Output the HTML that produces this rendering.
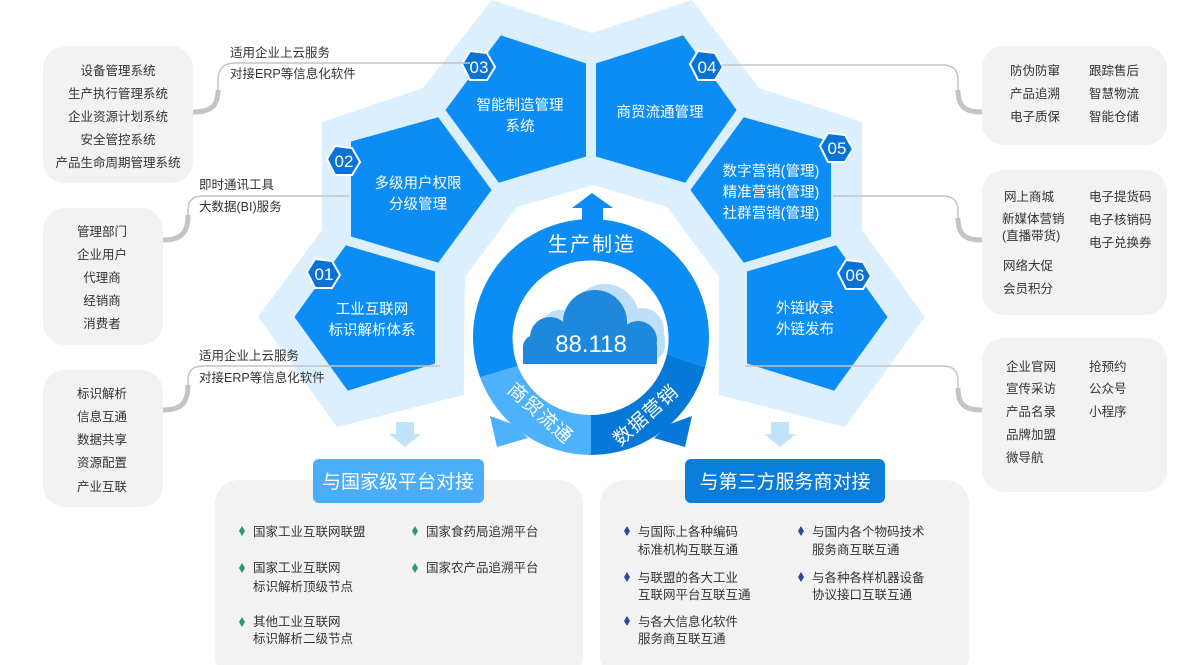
<!DOCTYPE html>
<html><head><meta charset="utf-8">
<style>
html,body{margin:0;padding:0;background:#fff;}
svg{display:block;font-family:"Liberation Sans","Noto Sans CJK SC",sans-serif;}
.g{fill:#333;font-size:12.5px;}
.w{fill:#fff;font-size:14.5px;}
.b{fill:#fff;font-size:17px;}
</style></head><body>
<svg width="1200" height="665" viewBox="0 0 1200 665" xmlns="http://www.w3.org/2000/svg">
<polygon points="492,0 592,33 692,0 759,88 862,122 862,230 925,317 845,427 719,395 463,395 337,427 258,317 322,230 322,122 423,88" fill="#dcefff"/>
<polygon points="463,470 465,277 517,207 593,185 667,207 719,277 719,470" fill="#fff"/>
<g fill="#0b8df5" stroke="#dcefff" stroke-width="4" stroke-linejoin="round">
<polygon points="500,33 588,62 588,158 498,185 443,110"/>
<polygon points="594,62 684,33 739,110 686,185 594,158"/>
<polygon points="349,140 439,115 494,190 439,265 349,238"/>
<polygon points="833,140 743,115 688,190 743,265 833,238"/>
<polygon points="292,317 345,243 437,270 437,365 347,393"/>
<polygon points="890,317 837,243 745,270 745,365 835,393"/>
</g>
<g class="w" text-anchor="middle">
<text x="520" y="110">智能制造管理</text><text x="520" y="131">系统</text>
<text x="660" y="117">商贸流通管理</text>
<text x="418" y="188">多级用户权限</text><text x="418" y="209">分级管理</text>
<text x="771" y="176">数字营销(管理)</text><text x="771" y="197">精准营销(管理)</text><text x="771" y="218">社群营销(管理)</text>
<text x="372" y="314">工业互联网</text><text x="372" y="335">标识解析体系</text>
<text x="805" y="313">外链收录</text><text x="805" y="334">外链发布</text>
</g>
<g fill="#0872d6" stroke="#fff" stroke-width="2">
<polygon points="462,64 470,51 487,53 495,67 487,80 470,80"/>
<polygon points="690,64 698,51 715,53 723,67 715,80 698,80"/>
<polygon points="327,159 335,146 352,148 360,162 352,175 335,175"/>
<polygon points="820,146 828,133 845,135 853,149 845,162 828,162"/>
<polygon points="307,272 315,259 332,261 340,275 332,288 315,288"/>
<polygon points="838,273 846,260 863,262 871,276 863,289 846,289"/>
</g>
<g class="b" text-anchor="middle">
<text x="479" y="73">03</text><text x="707" y="73">04</text><text x="344" y="167">02</text>
<text x="837" y="154">05</text><text x="324" y="280">01</text><text x="855" y="281">06</text>
</g>
<polygon points="592,193 613,208 603,208 603,222 582,222 582,208 572,208" fill="#0b8df5"/>
<path d="M705,367.5 A118,118 0 1 0 480.1,377.4 L517.6,366 A78,78 0 1 1 667,354 Z" fill="#0b8df5"/>
<path d="M591,455 A118,118 0 0 1 480.1,377.4 L517.6,366 A78,78 0 0 0 591,415 Z" fill="#4db1fc"/>
<path d="M705,367.5 A118,118 0 0 1 591,455 L591,415 A78,78 0 0 0 667,354 Z" fill="#0678d8"/>
<polygon points="490,416 512,424 528,438 497,447" fill="#4db1fc"/>
<polygon points="692,416 670,424 654,438 685,447" fill="#0678d8"/>
<text x="592" y="251" fill="#fff" font-size="20" text-anchor="middle" letter-spacing="2">生产制造</text>
<text transform="translate(536,418) rotate(42)" fill="#fff" font-size="19" text-anchor="middle" letter-spacing="1">商贸流通</text>
<text transform="translate(650,420) rotate(-42)" fill="#fff" font-size="19" text-anchor="middle" letter-spacing="1">数据营销</text>
<g fill="#bddff7">
<circle cx="605" cy="318" r="34"/><circle cx="642" cy="330" r="22"/><circle cx="560" cy="330" r="20"/>
<rect x="545" y="325" width="120" height="35" rx="14"/>
</g>
<g fill="#1e88dc">
<circle cx="550" cy="337" r="20"/><circle cx="595" cy="322" r="32"/><circle cx="638" cy="340" r="19"/>
<rect x="523" y="335" width="134" height="29" rx="12"/>
<rect x="523" y="345" width="134" height="19"/>
</g>
<text x="591" y="352" fill="#fff" font-size="24" text-anchor="middle">88.118</text>
<g fill="#bfe3f8">
<polygon points="396,422 414,422 414,434 421,434 405,447 389,434 396,434"/>
<polygon points="771,422 789,422 789,434 796,434 780,447 764,434 771,434"/>
</g>
<g fill="#f2f2f2">
<rect x="43" y="46" width="150" height="137" rx="22"/>
<rect x="43" y="208" width="120" height="137" rx="22"/>
<rect x="43" y="370" width="120" height="137" rx="22"/>
<rect x="982" y="46" width="185" height="99" rx="22"/>
<rect x="982" y="170" width="185" height="145" rx="22"/>
<rect x="982" y="338" width="185" height="154" rx="22"/>
<rect x="215" y="480" width="368" height="200" rx="24"/>
<rect x="600" y="480" width="369" height="200" rx="24"/>
</g>
<g fill="none" stroke="#c4c4c4">
<path d="M218,90 L218,80 Q218,63 235,63 H470" stroke-width="1.5"/>
<path d="M193,112 C212,112 218,105 218,90" stroke-width="5"/>
<path d="M188,215 L188,210 Q188,196 203,196 H349" stroke-width="1.5"/>
<path d="M163,240 C182,240 188,232 188,215" stroke-width="5"/>
<path d="M188,385 L188,380 Q188,366 203,366 H440" stroke-width="1.5"/>
<path d="M163,410 C182,410 188,402 188,385" stroke-width="5"/>
<path d="M722,65 H943 Q958,65 958,80 L958,90" stroke-width="1.5"/>
<path d="M958,90 C958,106 964,112 982,112" stroke-width="5"/>
<path d="M833,196 H943 Q958,196 958,211 L958,218" stroke-width="1.5"/>
<path d="M958,218 C958,234 964,240 982,240" stroke-width="5"/>
<path d="M745,366 H943 Q958,366 958,381 L958,388" stroke-width="1.5"/>
<path d="M958,388 C958,404 964,410 982,410" stroke-width="5"/>
</g>
<g class="g" font-size="12">
<text x="230" y="57">适用企业上云服务</text><text x="230" y="78">对接ERP等信息化软件</text>
<text x="199" y="189">即时通讯工具</text><text x="199" y="211">大数据(BI)服务</text>
<text x="199" y="360">适用企业上云服务</text><text x="199" y="382">对接ERP等信息化软件</text>
</g>
<g class="g" text-anchor="middle">
<text x="118" y="75">设备管理系统</text><text x="118" y="98">生产执行管理系统</text><text x="118" y="121">企业资源计划系统</text><text x="118" y="144">安全管控系统</text><text x="118" y="167">产品生命周期管理系统</text>
<text x="102" y="236">管理部门</text><text x="102" y="259">企业用户</text><text x="102" y="282">代理商</text><text x="102" y="305">经销商</text><text x="102" y="328">消费者</text>
<text x="102" y="398">标识解析</text><text x="102" y="421">信息互通</text><text x="102" y="444">数据共享</text><text x="102" y="467">资源配置</text><text x="102" y="491">产业互联</text>
</g>
<g class="g">
<text x="1010" y="75">防伪防窜</text><text x="1010" y="98">产品追溯</text><text x="1010" y="121">电子质保</text>
<text x="1089" y="75">跟踪售后</text><text x="1089" y="98">智慧物流</text><text x="1089" y="121">智能仓储</text>
<text x="1004" y="201">网上商城</text><text x="1002" y="223">新媒体营销</text><text x="1002" y="240">(直播带货)</text><text x="1003" y="270">网络大促</text><text x="1003" y="293">会员积分</text>
<text x="1089" y="201">电子提货码</text><text x="1089" y="224">电子核销码</text><text x="1089" y="247">电子兑换券</text>
<text x="1006" y="371">企业官网</text><text x="1006" y="393">宣传采访</text><text x="1006" y="416">产品名录</text><text x="1006" y="439">品牌加盟</text><text x="1006" y="462">微导航</text>
<text x="1089" y="371">抢预约</text><text x="1089" y="393">公众号</text><text x="1089" y="416">小程序</text>
</g>
<rect x="313" y="459" width="171" height="44" rx="6" fill="#4aadf9"/>
<rect x="685" y="459" width="200" height="44" rx="6" fill="#0a7ddb"/>
<text x="398" y="488" fill="#fff" font-size="19" text-anchor="middle">与国家级平台对接</text>
<text x="785" y="488" fill="#fff" font-size="19" text-anchor="middle">与第三方服务商对接</text>
<g fill="#2a9d6f">
<polygon points="242,526 245,531 242,536 239,531"/><polygon points="242,563 245,568 242,573 239,568"/><polygon points="242,617 245,622 242,627 239,622"/>
<polygon points="415,526 418,531 415,536 412,531"/><polygon points="415,563 418,568 415,573 412,568"/>
</g>
<g fill="#2b4a9a">
<polygon points="627,526 630,531 627,536 624,531"/><polygon points="627,572 630,577 627,582 624,577"/><polygon points="627,616 630,621 627,626 624,621"/>
<polygon points="801,526 804,531 801,536 798,531"/><polygon points="801,572 804,577 801,582 798,577"/>
</g>
<g class="g" font-size="12">
<text x="253" y="536">国家工业互联网联盟</text>
<text x="253" y="572">国家工业互联网</text><text x="253" y="591">标识解析顶级节点</text>
<text x="253" y="626">其他工业互联网</text><text x="253" y="643">标识解析二级节点</text>
<text x="426" y="536">国家食药局追溯平台</text>
<text x="426" y="572">国家农产品追溯平台</text>
<text x="638" y="536">与国际上各种编码</text><text x="638" y="554">标准机构互联互通</text>
<text x="638" y="582">与联盟的各大工业</text><text x="638" y="599">互联网平台互联互通</text>
<text x="638" y="626">与各大信息化软件</text><text x="638" y="643">服务商互联互通</text>
<text x="812" y="536">与国内各个物码技术</text><text x="812" y="554">服务商互联互通</text>
<text x="812" y="582">与各种各样机器设备</text><text x="812" y="599">协议接口互联互通</text>
</g>
</svg>
</body></html>
